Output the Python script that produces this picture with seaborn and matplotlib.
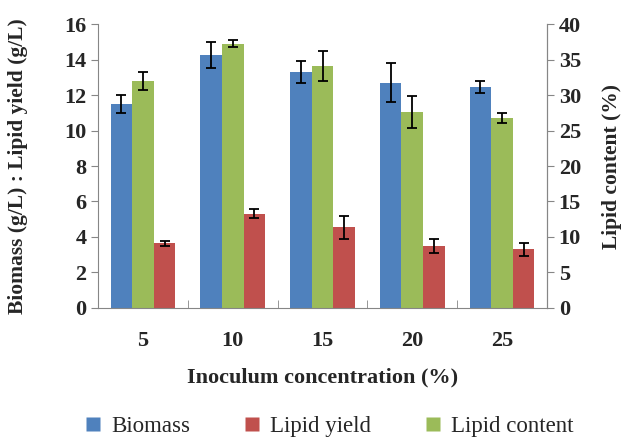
import matplotlib
matplotlib.use('Agg')
import matplotlib.pyplot as plt
import seaborn as sns
import pandas as pd

# inoculum concentration (%)
concentration = ['5', '10', '15', '20', '25']
biomass = [11.5, 14.25, 13.3, 12.7, 12.45]           # g/L
biomass_err = [0.5, 0.75, 0.6, 1.1, 0.35]
lipid_content = [32.0, 37.25, 34.1, 27.6, 26.7]     # %
lipid_content_err = [1.3, 0.5, 2.1, 2.3, 0.7]
lipid_yield = [3.65, 5.3, 4.55, 3.5, 3.3]           # g/L
lipid_yield_err = [0.15, 0.25, 0.65, 0.4, 0.36]

series_order = ['Biomass', 'Lipid content', 'Lipid yield']
colors = {'Biomass': '#4f81bd', 'Lipid content': '#9bbb59', 'Lipid yield': '#c0504d'}
scale = 16 / 40  # right axis (%) -> left axis units

df = pd.DataFrame({
    'Concentration': concentration * 3,
    'Value': biomass + [v * scale for v in lipid_content] + lipid_yield,
    'Err': biomass_err + [e * scale for e in lipid_content_err] + lipid_yield_err,
    'Series': ['Biomass'] * 5 + ['Lipid content'] * 5 + ['Lipid yield'] * 5,
})

sns.set_style('white')
plt.rcParams['font.family'] = ['Liberation Serif', 'DejaVu Serif']

fig = plt.figure(figsize=(6.25, 4.38), dpi=100)
ax = fig.add_axes([0.157, 0.297, 0.718, 0.648])

sns.barplot(data=df, x='Concentration', y='Value', hue='Series', hue_order=series_order,
            palette=colors, width=0.72, errorbar=None, ax=ax, legend=False,
            edgecolor='none', saturation=1)

for cont, name in zip(ax.containers, series_order):
    errs = df[df['Series'] == name]['Err'].tolist()
    xs = [p.get_x() + p.get_width() / 2 for p in cont.patches]
    hs = [p.get_height() for p in cont.patches]
    ax.errorbar(xs, hs, yerr=errs, fmt='none', ecolor='black', elinewidth=1.3,
                capsize=3.5, capthick=1.3)

ax.set_xlim(-0.5, 4.5)
ax.set_ylim(0, 16)
ax.set_yticks(range(0, 17, 2))
ax.set_xticks([i - 0.5 for i in range(6)], minor=True)

axis_grey = '#868686'
ax.spines['top'].set_visible(False)
for side in ['left', 'bottom', 'right']:
    ax.spines[side].set_color(axis_grey)
ax.tick_params(axis='y', which='major', left=True, direction='out', length=5, color=axis_grey,
               labelsize=16)
ax.tick_params(axis='x', which='major', bottom=False, labelsize=16, pad=13)
ax.tick_params(axis='x', which='minor', bottom=True, direction='in', length=6, color=axis_grey)
for lbl in ax.get_xticklabels() + ax.get_yticklabels():
    lbl.set_fontweight('bold')

ax.set_xlabel('Inoculum concentration (%)', fontsize=16, fontweight='bold', labelpad=12)
ax.set_ylabel('Biomass (g/L) : Lipid yield (g/L)', fontsize=15.5, fontweight='bold', labelpad=26)

sec = ax.secondary_yaxis('right', functions=(lambda y: y / scale, lambda y: y * scale))
sec.set_yticks(range(0, 41, 5))
sec.spines['right'].set_color(axis_grey)
sec.tick_params(direction='out', length=5, color=axis_grey, labelsize=16)
for lbl in sec.get_yticklabels():
    lbl.set_fontweight('bold')
sec.set_ylabel('Lipid content (%)', fontsize=15.5, fontweight='bold', labelpad=15)

legend_order = ['Biomass', 'Lipid yield', 'Lipid content']
handles = [plt.Line2D([], [], marker='s', linestyle='none', markersize=10,
                      markerfacecolor=colors[n], markeredgecolor='none') for n in legend_order]
fig.legend(handles, legend_order, loc='lower center', bbox_to_anchor=(0.515, -0.045), ncol=3,
           frameon=False, fontsize=16.5, handletextpad=-0.2, columnspacing=1.7)

fig.savefig('out.png', dpi=100)
